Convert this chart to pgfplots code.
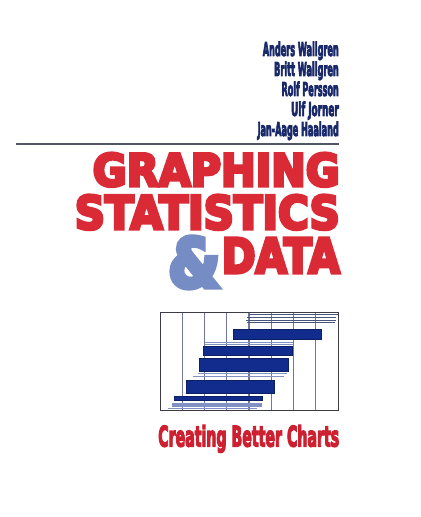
\documentclass[border=0pt]{standalone}
\usepackage{pgfplots}
\pgfplotsset{compat=1.18}
\usepackage{graphicx}
\usepackage{fontspec}
\setmainfont{DejaVu Sans}
\newfontfamily\titlefont{DejaVu Sans Bold}[RawFeature={embolden=7}]
\newfontfamily\ampfont{DejaVu Sans Bold}[RawFeature={embolden=8}]
\newfontfamily\condfont{DejaVu Sans Condensed Bold}[RawFeature={embolden=5}]

\definecolor{barnavy}{RGB}{18,44,142}
\definecolor{topline}{RGB}{72,84,122}
\definecolor{lightline}{RGB}{130,145,195}
\definecolor{gridc}{RGB}{112,120,160}
\definecolor{framec}{RGB}{60,60,70}
\definecolor{titlered}{RGB}{218,42,54}
\definecolor{subred}{RGB}{205,32,48}
\definecolor{ampblue}{RGB}{118,140,196}
\definecolor{authornavy}{RGB}{25,40,105}
\definecolor{rulegray}{RGB}{80,88,100}

\newcommand\heavy[6]{% #1 x, #2 y, #3 anchor, #4 width, #5 height, #6 text
  \node[anchor=#3, inner sep=0pt, text=titlered] at (#1,#2)
    {\resizebox{#4}{#5}{\fontsize{45bp}{45bp}\titlefont #6}};}
\newcommand\authorline[3]{% #1 y, #2 width, #3 name
  \node[anchor=base east, inner sep=0pt, text=authornavy] at (339,#1)
    {\resizebox{#2}{14.5bp}{\fontsize{19bp}{19bp}\condfont #3}};}

\begin{document}
\begin{tikzpicture}
\begin{scope}[x=1bp,y=1bp]
\path[fill=white] (0,0) rectangle (420,517);

% authors
\authorline{461}{76bp}{Anders Wallgren}
\authorline{441}{64.7bp}{Britt Wallgren}
\authorline{421}{57.3bp}{Rolf Persson}
\authorline{401}{47.7bp}{Ulf Jorner}
\authorline{381}{81.3bp}{Jan-Aage Haaland}
\draw[rulegray, line width=1.4bp] (16,373) -- (339,373);

% title
\heavy{340}{331}{base east}{247bp}{33bp}{GRAPHING}
\heavy{340}{288}{base east}{265bp}{34bp}{STATISTICS}
\heavy{340}{244}{base east}{118bp}{35bp}{DATA}
\node[anchor=base west, inner sep=0pt, text=ampblue] at (168,230)
  {\resizebox{52bp}{50bp}{\fontsize{45bp}{45bp}\ampfont\&}};

\node[anchor=base west, inner sep=0pt, text=subred] at (158,70.5)
  {\resizebox{181bp}{21.5bp}{\fontsize{29bp}{29bp}\condfont Creating Better Charts}};
\end{scope}

\begin{axis}[
    at={(160bp,106bp)}, anchor=south west,
    scale only axis, width=178bp, height=98bp,
    xmin=0, xmax=8, ymin=313, ymax=411, y dir=reverse,
    xtick={1,...,7}, xticklabels={}, ytick=\empty,
    major tick length=0pt,
    xmajorgrids,
    grid style={gridc, line width=1.3bp},
    axis line style={framec, line width=1bp},
    clip=false
]
% thin dark lines at the top
\addplot[topline, line width=1bp] coordinates {(4.00,315) (8.00,315)};
\addplot[topline, line width=1bp] coordinates {(3.93,317.6) (7.93,317.6)};
\addplot[topline, line width=1bp] coordinates {(3.88,320.2) (7.90,320.2)};
\addplot[topline, line width=1bp] coordinates {(3.93,322.8) (7.87,322.8)};

% wide bars
\addplot[draw=barnavy!70!black, fill=barnavy, line width=0.4bp]
  coordinates {(3.27,329) (7.24,329) (7.24,339.7) (3.27,339.7)} -- cycle;
\addplot[lightline, line width=1bp] coordinates {(2.03,342.4) (5.98,342.4)};
\addplot[lightline, line width=1bp] coordinates {(2.00,344.3) (5.98,344.3)};
\addplot[draw=barnavy!70!black, fill=barnavy, line width=0.4bp]
  coordinates {(1.95,346.3) (5.92,346.3) (5.92,355.2) (1.95,355.2)} -- cycle;
\addplot[draw=barnavy!70!black, fill=barnavy, line width=0.4bp]
  coordinates {(1.78,358) (5.77,358) (5.77,371.3) (1.78,371.3)} -- cycle;
\addplot[lightline, line width=1bp] coordinates {(1.69,373.3) (5.71,373.3)};
\addplot[lightline, line width=1bp] coordinates {(1.50,376.1) (5.57,376.1)};
\addplot[draw=barnavy!70!black, fill=barnavy, line width=0.4bp]
  coordinates {(1.17,380) (5.15,380) (5.15,393.3) (1.17,393.3)} -- cycle;

% bottom bars
\addplot[draw=barnavy!70!black, fill=barnavy, line width=0.4bp]
  coordinates {(0.64,396.7) (4.60,396.7) (4.60,400.3) (0.64,400.3)} -- cycle;
\addplot[draw=lightline, fill=lightline, line width=0.4bp]
  coordinates {(0.53,403.5) (4.53,403.5) (4.53,406.3) (0.53,406.3)} -- cycle;
\addplot[lightline, line width=1bp] coordinates {(0.35,408.7) (4.35,408.7)};
\end{axis}
\end{tikzpicture}
\end{document}
